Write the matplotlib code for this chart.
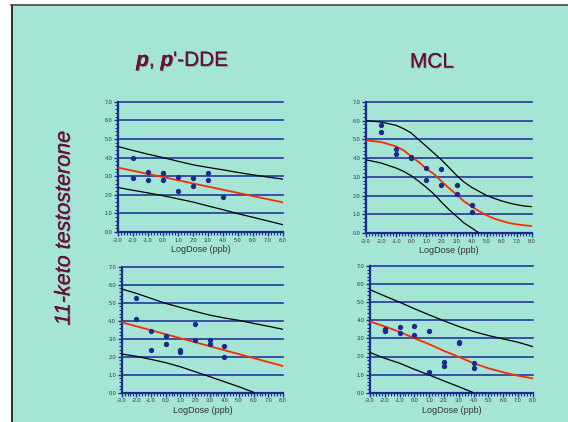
import matplotlib
matplotlib.use("Agg")
import matplotlib.pyplot as plt
from matplotlib.patches import Rectangle
from matplotlib.ticker import MultipleLocator
import matplotlib.patheffects as pe

plt.rcParams['font.family'] = ['Liberation Sans', 'DejaVu Sans']
plt.rcParams['mathtext.fontset'] = 'custom'
plt.rcParams['mathtext.rm'] = 'Liberation Sans'
plt.rcParams['mathtext.it'] = 'Liberation Sans:italic:bold'

# ---------------- data ----------------
col_titles = ["$\\mathit{p}$, $\\mathit{p}$'-DDE", "MCL"]
row_title = "11-keto testosterone"
x_label = "LogDose (ppb)"
x_ticks = [-3.0, -2.0, -1.0, 0.0, 1.0, 2.0, 3.0, 4.0, 5.0, 6.0, 7.0, 8.0]
y_ticks = [0.0, 1.0, 2.0, 3.0, 4.0, 5.0, 6.0, 7.0]
x_curve = [-3, -2, -1, 0, 1, 2, 3, 4, 5, 6, 7, 8]
x_half = [-3, -2, -1, -0.5, 0, 0.5, 1, 1.5, 2, 2.5, 3, 3.5, 4, 4.5, 5, 5.5, 6, 6.5, 7, 7.5, 8]

# top-left: DDE
tl_px = [-2, -2, -1, -1, 0, 0, 1, 1, 2, 2, 3, 3, 4]
tl_py = [4.0, 2.89, 3.2, 2.77, 3.16, 2.8, 2.95, 2.21, 2.89, 2.46, 3.16, 2.77, 1.86]
tl_fit_x = [-3, 8]
tl_fit_y = [3.46, 1.59]
tl_upper = [4.59, 4.38, 4.18, 4.0, 3.8, 3.61, 3.47, 3.34, 3.2, 3.07, 2.95, 2.84]
tl_lower = [2.39, 2.24, 2.1, 1.95, 1.78, 1.61, 1.4, 1.2, 0.98, 0.79, 0.59, 0.39]

# top-right: MCL
tr_px = [-2, -2, -1, -1, 0, 0, 1, 1, 2, 2, 3, 3, 4, 4]
tr_py = [5.78, 5.39, 4.47, 4.2, 4.04, 4.0, 3.49, 2.85, 3.42, 2.58, 2.54, 2.1, 1.51, 1.12]
tr_fit = [4.95, 4.86, 4.63, 4.41, 4.09, 3.79, 3.43, 3.15, 2.76, 2.4, 2.05, 1.69,
          1.42, 1.16, 0.94, 0.77, 0.64, 0.53, 0.46, 0.41, 0.37]
tr_upper = [6.0, 5.93, 5.75, 5.57, 5.34, 4.98, 4.63, 4.27, 3.91, 3.5, 3.08, 2.72,
            2.44, 2.22, 2.0, 1.85, 1.71, 1.6, 1.51, 1.44, 1.41]
tr_lower_x = [-3, -2, -1, -0.5, 0, 0.5, 1, 1.5, 2, 2.5, 3, 3.5, 4, 4.5]
tr_lower = [3.91, 3.74, 3.47, 3.29, 3.06, 2.76, 2.44, 2.08, 1.65, 1.25, 0.89, 0.53, 0.27, 0.0]

# bottom-left: DDE
bl_px = [-2, -2, -1, -1, 0, 0, 1, 1, 2, 2, 3, 3, 4, 4]
bl_py = [5.24, 4.09, 3.41, 2.37, 3.15, 2.69, 2.39, 2.28, 3.81, 2.91, 2.93, 2.69, 2.61, 1.98]
bl_fit_x = [-3, 8]
bl_fit_y = [3.91, 1.48]
bl_upper = [5.76, 5.52, 5.24, 4.96, 4.74, 4.52, 4.31, 4.15, 4.02, 3.85, 3.69, 3.52]
bl_lower_x = [-3, -2, -1, 0, 1, 2, 3, 4, 5, 6]
bl_lower = [2.15, 2.02, 1.85, 1.67, 1.44, 1.17, 0.89, 0.61, 0.33, 0.02]

# bottom-right: MCL
br_px = [-2, -2, -2, -1, -1, 0, 0, 1, 1, 2, 2, 3, 3, 4, 4]
br_py = [3.53, 3.46, 3.40, 3.62, 3.29, 3.68, 3.18, 3.40, 1.13, 1.68, 1.48, 2.8, 2.75, 1.63, 1.37]
br_fit = [3.93, 3.66, 3.36, 3.01, 2.68, 2.31, 1.98, 1.63, 1.35, 1.13, 0.94, 0.79]
br_upper = [5.69, 5.34, 5.0, 4.64, 4.3, 3.97, 3.66, 3.38, 3.16, 2.97, 2.79, 2.55]
br_lower_x = [-3, -2, -1, 0, 1, 2, 3, 4]
br_lower = [2.22, 1.9, 1.63, 1.29, 0.98, 0.65, 0.33, 0.0]

# ---------------- style ----------------
BG = '#a4e5d5'
NAVY = '#1a2a8f'
GRID = '#23399a'
TITLE_C = '#6a0e3c'
TXT = '#333333'
RED = '#ff2a00'

fig = plt.figure(figsize=(5.68, 4.22), dpi=100)
fig.patch.set_facecolor('white')
W, H = 568.0, 422.0
bg = Rectangle((11 / W, 0), 1 - 11 / W, 1 - 5 / H, transform=fig.transFigure,
               facecolor=BG, edgecolor='none', zorder=-10)
fig.add_artist(bg)
fig.add_artist(plt.Line2D([11.5 / W, 11.5 / W], [0, 1 - 4.5 / H], transform=fig.transFigure,
                          color='#111111', lw=1.2, zorder=-5))
fig.add_artist(plt.Line2D([11 / W, 1], [1 - 4.5 / H, 1 - 4.5 / H], transform=fig.transFigure,
                          color='#3a5048', lw=1.2, zorder=-5))

def px_rect(l, r, t, b):
    return [l / W, 1 - b / H, (r - l) / W, (b - t) / H]

def make_ax(rect):
    ax = fig.add_axes(rect)
    ax.set_zorder(2)
    ax.set_facecolor('none')
    ax.set_xlim(-3, 8)
    ax.set_ylim(0, 7)
    for s in ['top', 'right']:
        ax.spines[s].set_visible(False)
    for s in ['left', 'bottom']:
        ax.spines[s].set_color(NAVY)
        ax.spines[s].set_linewidth(1.6)
    ax.set_xticks(x_ticks)
    ax.set_xticklabels([f"{v:.1f}" for v in x_ticks])
    ax.set_yticks(y_ticks)
    ax.set_yticklabels([f"{v:.1f}" for v in y_ticks])
    ax.xaxis.set_minor_locator(MultipleLocator(0.2))
    ax.yaxis.set_minor_locator(MultipleLocator(0.2))
    ax.tick_params(which='major', length=3, width=1.0, color=NAVY, labelsize=4,
                   labelcolor=TXT, pad=1)
    ax.tick_params(which='minor', length=2, width=0.8, color=NAVY)
    for yv in y_ticks[1:]:
        ax.axhline(yv, color=GRID, lw=1.2, zorder=1, clip_on=False)
    ax.set_xlabel(x_label, fontsize=6.5, color=TXT, labelpad=2)
    return ax

def plot_pts(ax, px, py):
    ax.plot(px, py, 'o', color=NAVY, markersize=2.8, zorder=5, clip_on=False)

ax1 = make_ax(px_rect(118, 283, 101.7, 232))
ax1.plot(x_curve, tl_upper, color='black', lw=0.9, zorder=3)
ax1.plot(x_curve, tl_lower, color='black', lw=0.9, zorder=3)
ax1.plot(tl_fit_x, tl_fit_y, color=RED, lw=1.3, zorder=4)
plot_pts(ax1, tl_px, tl_py)

ax2 = make_ax(px_rect(366, 532, 102, 233))
ax2.plot(x_half, tr_upper, color='black', lw=0.9, zorder=3)
ax2.plot(tr_lower_x, tr_lower, color='black', lw=0.9, zorder=3)
ax2.plot(x_half, tr_fit, color=RED, lw=1.3, zorder=4)
plot_pts(ax2, tr_px, tr_py)

ax3 = make_ax(px_rect(121.7, 283, 266.7, 392.7))
ax3.plot(x_curve, bl_upper, color='black', lw=0.9, zorder=3)
ax3.plot(bl_lower_x, bl_lower, color='black', lw=0.9, zorder=3)
ax3.plot(bl_fit_x, bl_fit_y, color=RED, lw=1.3, zorder=4)
plot_pts(ax3, bl_px, bl_py)

ax4 = make_ax(px_rect(370, 532.7, 266, 392.7))
ax4.plot(x_curve, br_upper, color='black', lw=0.9, zorder=3)
ax4.plot(br_lower_x, br_lower, color='black', lw=0.9, zorder=3)
ax4.plot(x_curve, br_fit, color=RED, lw=1.3, zorder=4)
plot_pts(ax4, br_px, br_py)

shadow = [pe.withSimplePatchShadow(offset=(0.6, -0.6), shadow_rgbFace='#222222', alpha=0.35),
          pe.Normal()]
fig.text(183 / W, 1 - 61 / H, col_titles[0], fontsize=15, color=TITLE_C,
         ha='center', va='center', path_effects=shadow)
fig.text(432 / W, 1 - 62 / H, col_titles[1], fontsize=15, color=TITLE_C,
         ha='center', va='center', path_effects=shadow)
fig.text(64 / W, 1 - 228 / H, row_title, fontsize=15.5, color=TITLE_C, style='italic',
         rotation=90, ha='center', va='center', path_effects=shadow)

fig.savefig('out.png', dpi=100, facecolor=fig.get_facecolor())
